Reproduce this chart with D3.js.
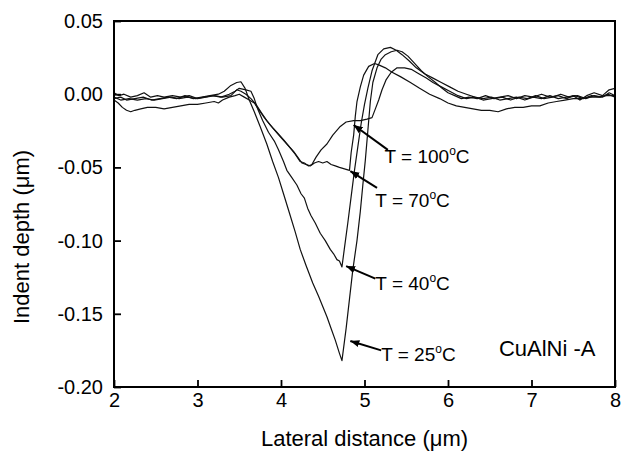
<!DOCTYPE html>
<html>
<head>
<meta charset="utf-8">
<script src="https://cdn.jsdelivr.net/npm/d3@7"></script>
<style>
  body { margin: 0; background: #fff; }
  svg { display: block; font-family: "Liberation Sans", Arial, sans-serif; }
</style>
</head>
<body>
<svg id="chart"></svg>
<script>
// profiles: [lateral distance (um), indent depth (um)]
const t25 = [
  [2.00,-0.003],[2.08,-0.002],[2.15,-0.004],[2.25,-0.003],[2.35,-0.002],[2.45,-0.004],[2.55,-0.003],
  [2.65,-0.002],[2.75,-0.003],[2.85,-0.001],[2.95,-0.003],[3.05,-0.002],[3.15,-0.001],[3.25,0.000],
  [3.32,0.002],[3.40,0.006],[3.47,0.008],[3.52,0.0085],[3.57,0.004],[3.62,-0.004],[3.68,-0.012],
  [3.75,-0.022],[3.83,-0.034],[3.90,-0.046],[3.97,-0.057],[4.03,-0.068],[4.10,-0.081],[4.17,-0.094],
  [4.23,-0.106],[4.30,-0.117],[4.38,-0.129],[4.45,-0.138],[4.50,-0.145],[4.55,-0.152],[4.60,-0.160],
  [4.65,-0.168],[4.70,-0.177],[4.73,-0.182],[4.78,-0.160],[4.82,-0.140],[4.86,-0.120],[4.91,-0.100],
  [4.95,-0.080],[4.98,-0.062],[5.01,-0.045],[5.04,-0.025],[5.07,-0.005],[5.10,0.008],[5.15,0.018],
  [5.20,0.024],[5.25,0.027],[5.32,0.029],[5.39,0.030],[5.45,0.029],[5.52,0.026],[5.60,0.021],
  [5.68,0.016],[5.76,0.012],[5.85,0.008],[5.93,0.004],[6.00,0.001],[6.08,-0.001],[6.16,-0.003],
  [6.25,-0.002],[6.35,-0.003],[6.45,-0.001],[6.55,-0.003],[6.65,-0.002],[6.75,-0.004],[6.85,-0.002],
  [6.95,-0.003],[7.05,-0.001],[7.15,-0.003],[7.25,-0.002],[7.35,0.000],[7.45,-0.002],[7.55,-0.001],
  [7.65,-0.003],[7.75,-0.001],[7.85,-0.002],[7.93,0.001],[8.00,-0.001]
];
const t40 = [
  [2.00,-0.002],[2.08,-0.004],[2.18,-0.003],[2.28,-0.004],[2.38,-0.003],[2.48,-0.004],[2.58,-0.003],
  [2.68,-0.002],[2.78,-0.003],[2.88,-0.002],[2.98,-0.003],[3.08,-0.002],[3.18,-0.001],[3.28,-0.002],
  [3.38,0.000],[3.45,0.002],[3.50,0.004],[3.58,0.003],[3.64,0.002],[3.68,-0.003],[3.72,-0.010],
  [3.78,-0.018],[3.85,-0.026],[3.92,-0.032],[3.97,-0.038],[4.03,-0.046],[4.07,-0.052],[4.13,-0.057],
  [4.19,-0.062],[4.24,-0.068],[4.28,-0.071],[4.32,-0.078],[4.36,-0.083],[4.41,-0.088],[4.47,-0.095],
  [4.53,-0.100],[4.59,-0.106],[4.63,-0.109],[4.67,-0.113],[4.70,-0.114],[4.73,-0.118],[4.76,-0.105],
  [4.80,-0.088],[4.84,-0.070],[4.88,-0.052],[4.92,-0.036],[4.96,-0.020],[5.00,-0.007],[5.04,0.004],
  [5.09,0.016],[5.16,0.027],[5.23,0.031],[5.31,0.032],[5.38,0.030],[5.45,0.027],[5.53,0.023],
  [5.62,0.018],[5.72,0.014],[5.82,0.011],[5.92,0.008],[6.02,0.005],[6.12,0.002],[6.22,0.000],
  [6.32,-0.002],[6.42,-0.003],[6.52,-0.002],[6.62,-0.004],[6.72,-0.003],[6.82,-0.002],[6.92,-0.004],
  [7.02,-0.002],[7.12,-0.003],[7.22,-0.001],[7.32,-0.003],[7.42,-0.002],[7.52,-0.001],[7.62,-0.003],
  [7.72,-0.001],[7.82,-0.002],[7.92,0.000],[8.00,-0.002]
];
const t70 = [
  [2.00,0.001],[2.06,-0.001],[2.12,0.000],[2.20,-0.002],[2.28,-0.001],[2.36,0.001],[2.44,-0.002],
  [2.52,-0.001],[2.60,-0.002],[2.70,-0.001],[2.80,-0.002],[2.90,-0.001],[3.00,-0.003],[3.10,-0.002],
  [3.20,-0.001],[3.30,-0.002],[3.40,-0.001],[3.47,0.003],[3.52,0.002],[3.58,0.000],[3.64,-0.003],
  [3.70,-0.007],[3.77,-0.013],[3.83,-0.018],[3.90,-0.023],[3.99,-0.029],[4.07,-0.034],[4.15,-0.039],
  [4.20,-0.043],[4.25,-0.047],[4.30,-0.048],[4.35,-0.049],[4.40,-0.047],[4.45,-0.046],[4.50,-0.047],
  [4.55,-0.046],[4.60,-0.048],[4.65,-0.049],[4.70,-0.050],[4.76,-0.051],[4.82,-0.052],[4.84,-0.040],
  [4.87,-0.028],[4.89,-0.015],[4.91,-0.005],[4.95,0.005],[4.99,0.013],[5.05,0.019],[5.12,0.021],
  [5.17,0.020],[5.25,0.018],[5.33,0.015],[5.43,0.012],[5.55,0.008],[5.66,0.004],[5.78,0.000],
  [5.90,-0.003],[6.00,-0.006],[6.10,-0.008],[6.20,-0.009],[6.30,-0.010],[6.40,-0.011],[6.50,-0.011],
  [6.60,-0.012],[6.70,-0.010],[6.80,-0.009],[6.90,-0.009],[7.00,-0.008],[7.10,-0.008],[7.20,-0.006],
  [7.30,-0.005],[7.40,-0.004],[7.50,-0.003],[7.60,-0.003],[7.70,-0.002],[7.80,-0.002],[7.90,-0.001],
  [8.00,-0.001]
];
const t100 = [
  [2.00,-0.004],[2.05,-0.006],[2.10,-0.009],[2.15,-0.011],[2.20,-0.012],[2.25,-0.011],[2.32,-0.010],
  [2.40,-0.009],[2.50,-0.009],[2.60,-0.010],[2.70,-0.009],[2.80,-0.008],[2.90,-0.007],[3.00,-0.007],
  [3.10,-0.006],[3.20,-0.005],[3.25,-0.006],[3.30,-0.004],[3.38,-0.002],[3.45,-0.001],[3.50,0.000],
  [3.56,-0.002],[3.62,-0.004],[3.68,-0.006],[3.74,-0.011],[3.80,-0.016],[3.87,-0.021],[3.95,-0.026],
  [4.03,-0.031],[4.10,-0.036],[4.17,-0.041],[4.23,-0.046],[4.28,-0.047],[4.33,-0.049],[4.37,-0.048],
  [4.42,-0.043],[4.48,-0.038],[4.55,-0.034],[4.62,-0.028],[4.71,-0.022],[4.78,-0.019],[4.87,-0.018],
  [4.95,-0.018],[5.03,-0.017],[5.09,-0.016],[5.13,-0.010],[5.17,-0.004],[5.21,0.003],[5.26,0.010],
  [5.32,0.015],[5.39,0.018],[5.48,0.018],[5.56,0.017],[5.65,0.014],[5.74,0.011],[5.82,0.008],
  [5.92,0.005],[6.02,0.002],[6.12,-0.001],[6.22,-0.003],[6.32,-0.002],[6.42,-0.004],[6.52,-0.003],
  [6.62,-0.002],[6.72,-0.001],[6.82,-0.003],[6.92,-0.001],[7.02,-0.002],[7.12,0.000],[7.22,-0.002],
  [7.32,-0.001],[7.42,-0.003],[7.50,-0.001],[7.58,-0.004],[7.66,-0.001],[7.75,0.001],[7.85,-0.001],
  [7.93,0.003],[8.00,0.004]
];

const xTicks = [2, 3, 4, 5, 6, 7, 8];
const yTicks = [0.05, 0.00, -0.05, -0.10, -0.15, -0.20];

// label: temperature, text anchor (x, y), arrow tail, arrow tip — all in data units
const labelTemps = ["100", "70", "40", "25"];
const labelAt   = [[5.24, -0.047], [5.13, -0.077], [5.13, -0.134], [5.20, -0.182]];
const arrowFrom = [[5.28, -0.038], [5.15, -0.064], [5.13, -0.126], [5.20, -0.175]];
const arrowTo   = [[4.87, -0.021], [4.83, -0.0525], [4.78, -0.1174], [4.83, -0.1686]];

const sampleName = "CuAlNi -A";
const sampleAt = [6.61, -0.179];

const width = 621, height = 455;
const margin = { top: 21, right: 6, bottom: 68, left: 114 };
const innerW = width - margin.left - margin.right;
const innerH = height - margin.top - margin.bottom;

const svg = d3.select("#chart").attr("width", width).attr("height", height);

const x = d3.scaleLinear().domain([2, 8]).range([0, innerW]);
const y = d3.scaleLinear().domain([-0.20, 0.05]).range([innerH, 0]);

const g = svg.append("g").attr("transform", `translate(${margin.left},${margin.top})`);

svg.append("defs").append("clipPath").attr("id", "plot")
  .append("rect").attr("width", innerW).attr("height", innerH);

svg.select("defs").append("marker")
  .attr("id", "head")
  .attr("viewBox", "0 0 10 10")
  .attr("refX", 10).attr("refY", 5)
  .attr("markerWidth", 4.5).attr("markerHeight", 4.5)
  .attr("markerUnits", "strokeWidth")
  .attr("orient", "auto")
  .append("path").attr("d", "M0,1 L10,5 L0,9 Z").attr("fill", "#000");

// axes, ticks inward
const xAxis = g.append("g")
  .attr("transform", `translate(0,${innerH})`)
  .call(d3.axisBottom(x).tickValues(xTicks).tickSizeInner(-7).tickSizeOuter(0).tickPadding(6)
    .tickFormat(d3.format("d")));
const yAxis = g.append("g")
  .call(d3.axisLeft(y).tickValues(yTicks).tickSizeInner(-7).tickSizeOuter(0).tickPadding(11)
    .tickFormat(d => d.toFixed(2)));

[xAxis, yAxis].forEach(a => {
  a.select(".domain").remove();
  a.selectAll("line").attr("stroke", "#000").attr("stroke-width", 1.8);
  a.selectAll("text").attr("fill", "#000").style("font-size", "20px")
    .style("font-family", "'Liberation Sans', Arial, sans-serif");
});

const line = d3.line().x(d => x(d[0])).y(d => y(d[1]));

const curves = g.append("g").attr("clip-path", "url(#plot)");
[t25, t40, t70, t100].forEach(series => {
  curves.append("path")
    .datum(series)
    .attr("fill", "none")
    .attr("stroke", "#111")
    .attr("stroke-width", 1.2)
    .attr("stroke-linejoin", "round")
    .attr("d", line);
});

g.append("rect")
  .attr("width", innerW).attr("height", innerH)
  .attr("fill", "none").attr("stroke", "#000").attr("stroke-width", 2);

// temperature labels with arrows
labelTemps.forEach((t, i) => {
  g.append("line")
    .attr("x1", x(arrowFrom[i][0])).attr("y1", y(arrowFrom[i][1]))
    .attr("x2", x(arrowTo[i][0])).attr("y2", y(arrowTo[i][1]))
    .attr("stroke", "#000").attr("stroke-width", 2)
    .attr("marker-end", "url(#head)");

  const txt = g.append("text")
    .attr("x", x(labelAt[i][0])).attr("y", y(labelAt[i][1]))
    .style("font-size", "19px");
  txt.append("tspan").text(`T = ${t}`);
  txt.append("tspan").attr("dy", -8).style("font-size", "12px").text("o");
  txt.append("tspan").attr("dy", 8).text("C");
});

g.append("text")
  .attr("x", x(sampleAt[0])).attr("y", y(sampleAt[1]))
  .style("font-size", "22px")
  .text(sampleName);

// axis titles
svg.append("text")
  .attr("x", margin.left + innerW / 2).attr("y", 446)
  .attr("text-anchor", "middle")
  .style("font-size", "22px")
  .text("Lateral distance (\u03bcm)");

svg.append("text")
  .attr("transform", "translate(29,237) rotate(-90)")
  .attr("text-anchor", "middle")
  .style("font-size", "22px")
  .text("Indent depth (\u03bcm)");
</script>
</body>
</html>
